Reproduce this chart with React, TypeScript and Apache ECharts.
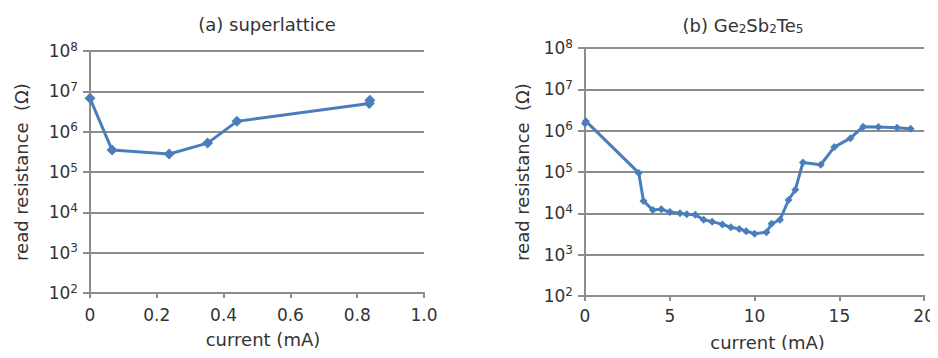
import React, { useEffect, useRef } from "react";
import * as echarts from "echarts";

const leftCurrent = [0, 0.066, 0.237, 0.352, 0.44, 0.836, 0.838];
const leftResistance = [6.7e6, 3.5e5, 2.8e5, 5.2e5, 1.8e6, 5.0e6, 6.0e6];

const rightCurrent = [0, 0.05, 3.17, 3.45, 4.0, 4.5, 5.0, 5.6, 6.0, 6.5, 7.0, 7.5, 8.1, 8.6, 9.1, 9.5, 10.0, 10.7, 11.0, 11.5, 12.0, 12.4, 12.85, 13.9, 14.7, 15.65, 16.4, 17.3, 18.4, 19.2];
const rightResistance = [1.5e6, 1.7e6, 9.5e4, 2.0e4, 1.2e4, 1.25e4, 1.08e4, 1.0e4, 9.5e3, 9.2e3, 7.0e3, 6.3e3, 5.4e3, 4.6e3, 4.2e3, 3.7e3, 3.2e3, 3.5e3, 5.6e3, 7.0e3, 2.1e4, 3.7e4, 1.7e5, 1.5e5, 4.0e5, 6.6e5, 1.25e6, 1.23e6, 1.17e6, 1.12e6];

const leftTicks = [0, 0.2, 0.4, 0.6, 0.8, 1.0];
const rightTicks = [0, 5, 10, 15, 20];

const FONT = "DejaVu Sans";
const TEXT = "#333333";
const GRID = "#8c8c8c";
const BLUE = "#4a7ebb";

function yAxisOf(gridIndex: number, nameGap: number) {
  return {
    type: "log",
    logBase: 10,
    gridIndex,
    min: 100,
    max: 1e8,
    name: "read resistance  (Ω)",
    nameLocation: "middle",
    nameGap,
    nameTextStyle: { fontFamily: FONT, fontSize: 18, color: TEXT },
    axisLine: { show: true, lineStyle: { color: GRID, width: 2 } },
    axisTick: { show: true, length: 7, lineStyle: { color: GRID, width: 2 } },
    splitLine: { show: true, lineStyle: { color: GRID, width: 2 } },
    axisLabel: {
      margin: 12,
      formatter: (v: number) => `{b|10}{s|${Math.round(Math.log10(v))}}`,
      rich: {
        b: { fontFamily: FONT, fontSize: 17, color: TEXT },
        s: { fontFamily: FONT, fontSize: 12, color: TEXT, padding: [0, 0, 9, 0] },
      },
    },
  };
}

function xAxisOf(gridIndex: number, ticks: number[], fmt: (v: number) => string, margin: number, nameGap: number, shift: number) {
  return {
    type: "value",
    gridIndex,
    min: ticks[0],
    max: ticks[ticks.length - 1],
    interval: ticks[1] - ticks[0],
    name: "current (mA)",
    nameLocation: "middle",
    nameGap,
    nameTextStyle: { fontFamily: FONT, fontSize: 18, color: TEXT, padding: [0, 0, 0, shift] },
    axisLine: { show: true, onZero: false, lineStyle: { color: GRID, width: 2 } },
    axisTick: { show: true, length: 5, lineStyle: { color: GRID, width: 2 } },
    splitLine: { show: false },
    axisLabel: { fontFamily: FONT, fontSize: 17, color: TEXT, margin, formatter: fmt },
  };
}

export default function App() {
  const ref = useRef<HTMLDivElement>(null);
  useEffect(() => {
    if (!ref.current) return;
    const chart = echarts.init(ref.current, undefined, { renderer: "svg" });
    chart.setOption({
      animation: false,
      backgroundColor: "#ffffff",
      title: [
        {
          text: "(a) superlattice",
          left: 262,
          top: 10,
          textAlign: "center",
          textStyle: { fontFamily: FONT, fontSize: 18, fontWeight: "normal", color: TEXT },
        },
        {
          text: "{t|(b) Ge}{u|2}{t|Sb}{u|2}{t|Te}{u|5}",
          left: 738,
          top: 10,
          textAlign: "center",
          textStyle: {
            fontFamily: FONT,
            fontSize: 18,
            fontWeight: "normal",
            color: TEXT,
            rich: {
              t: { fontFamily: FONT, fontSize: 18, color: TEXT },
              u: { fontFamily: FONT, fontSize: 12, color: TEXT, padding: [8, 0, 0, 0] },
            },
          },
        },
      ],
      grid: [
        { left: 90, top: 51, width: 334, height: 242 },
        { left: 585, top: 48, width: 344, height: 248 },
      ],
      xAxis: [
        xAxisOf(0, leftTicks, (v: number) => (v === 0 ? "0" : v.toFixed(1)), 13, 37, 12),
        xAxisOf(1, rightTicks, (v: number) => String(v), 11, 37, 26),
      ],
      yAxis: [yAxisOf(0, 60), yAxisOf(1, 54)],
      series: [
        {
          type: "line",
          xAxisIndex: 0,
          yAxisIndex: 0,
          data: leftCurrent.map((c, i) => [c, leftResistance[i]]),
          symbol: "diamond",
          symbolSize: 11,
          lineStyle: { color: BLUE, width: 3 },
          itemStyle: { color: BLUE },
        },
        {
          type: "line",
          xAxisIndex: 1,
          yAxisIndex: 1,
          data: rightCurrent.map((c, i) => [c, rightResistance[i]]),
          symbol: "diamond",
          symbolSize: 8,
          lineStyle: { color: BLUE, width: 3 },
          itemStyle: { color: BLUE },
        },
      ],
    });
    return () => chart.dispose();
  }, []);
  return <div ref={ref} style={{ width: 938, height: 358, margin: -8 }} />;
}
